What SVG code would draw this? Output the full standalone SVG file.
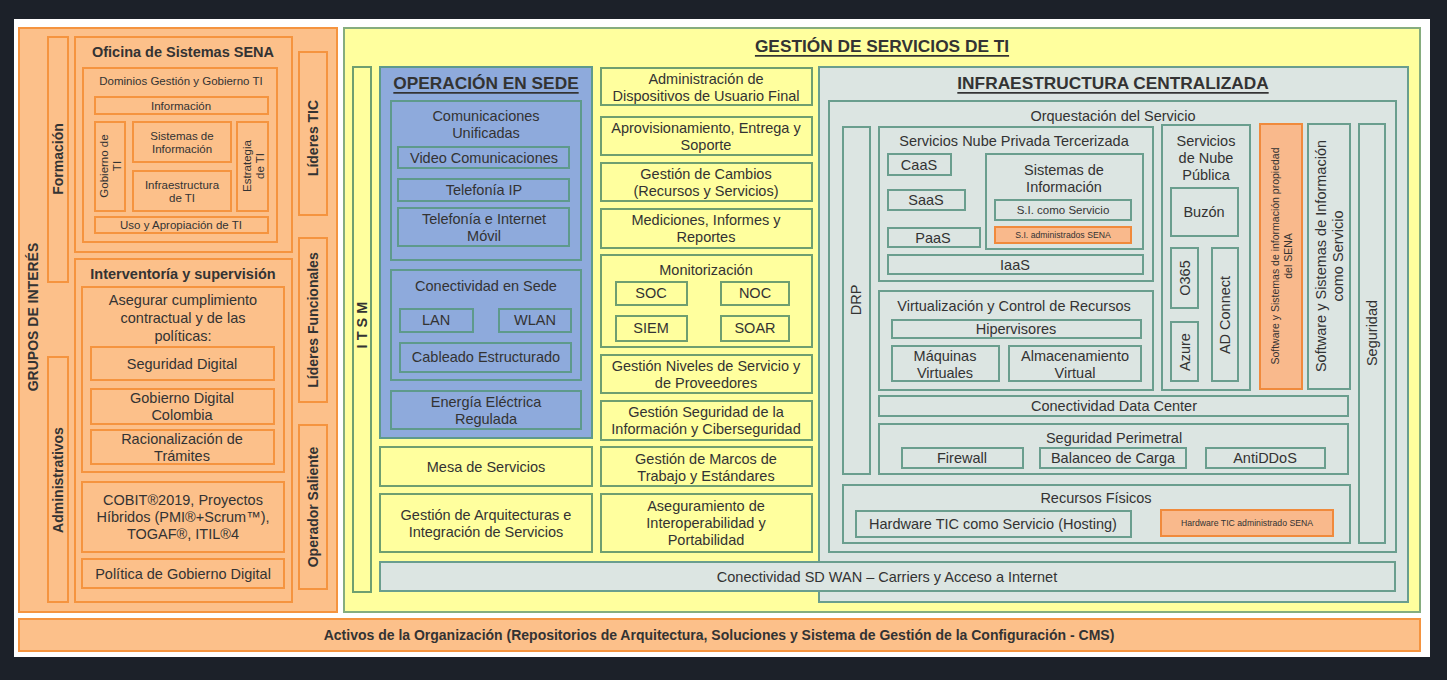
<svg xmlns="http://www.w3.org/2000/svg" width="1447" height="680" viewBox="0 0 1447 680">
<style>
.t{font-family:"Liberation Sans",Arial,sans-serif;fill:#333;text-anchor:middle;dominant-baseline:central;font-size:14.5px}
.b{font-weight:bold}
.u{text-decoration:underline}
.f10{font-size:11.5px}
.f12{font-size:14px}
.f16{font-size:17.3px}
.f7{font-size:8.7px}
.f9{font-size:10.5px}
.o{fill:#fcc08a;stroke:#f5943f;stroke-width:2}
.y{fill:#ffff9e;stroke:#86ad7e;stroke-width:2}
.yb{fill:#ffff9e;stroke:#6f9f70;stroke-width:2}
.bl{fill:#8eaadc;stroke:#5e9a8c;stroke-width:2}
.g{fill:#dce5e2;stroke:#6a9e8e;stroke-width:2}
.oh{fill:#f9b98c;stroke:#f08a3c;stroke-width:2}
</style>
<rect x="0" y="0" width="1447" height="680" fill="#1c2129"/>
<rect x="14" y="19" width="1416" height="638" fill="#ffffff"/>

<g id="grupos-interes">
<rect class="o" x="19" y="28" width="318" height="584"/>
<text class="t b f12" transform="rotate(-90 33 317)" x="33" y="317">GRUPOS DE INTERÉS</text>
</g>
<g id="formacion">
<rect class="o" x="48" y="37" width="20" height="245"/>
<text class="t b f12" transform="rotate(-90 58 159)" x="58" y="159">Formación</text>
</g>
<g id="administrativos">
<rect class="o" x="48" y="357" width="20" height="245"/>
<text class="t b f12" transform="rotate(-90 58 480)" x="58" y="480">Administrativos</text>
</g>
<g id="oficina-sistemas">
<rect class="o" x="75" y="37" width="217" height="215"/>
<text class="t b" x="183" y="52">Oficina de Sistemas SENA</text>
</g>
<g id="dominios">
<rect class="o" x="83" y="68" width="194" height="174"/>
<text class="t f10" x="181" y="81">Dominios Gestión y Gobierno TI</text>
</g>
<g id="informacion">
<rect class="o" x="95" y="97" width="173" height="17"/>
<text class="t f10" x="181" y="106">Información</text>
</g>
<g id="gobierno-ti">
<rect class="o" x="95" y="122" width="30" height="89"/>
<text class="t f10" transform="rotate(-90 110 166)" x="110" y="166"><tspan x="110" dy="-6.5">Gobierno de</tspan><tspan x="110" dy="13">TI</tspan></text>
</g>
<g id="sistemas-informacion-l">
<rect class="o" x="133" y="122" width="98" height="40"/>
<text class="t f10" x="182" y="142"><tspan x="182" dy="-6.5">Sistemas de</tspan><tspan x="182" dy="13">Información</tspan></text>
</g>
<g id="infraestructura-ti">
<rect class="o" x="133" y="171" width="98" height="40"/>
<text class="t f10" x="182" y="191"><tspan x="182" dy="-6.5">Infraestructura</tspan><tspan x="182" dy="13">de TI</tspan></text>
</g>
<g id="estrategia-ti">
<rect class="o" x="237" y="122" width="31" height="89"/>
<text class="t f10" transform="rotate(-90 253 166)" x="253" y="166"><tspan x="253" dy="-6.5">Estrategia</tspan><tspan x="253" dy="13">de TI</tspan></text>
</g>
<g id="uso-apropiacion">
<rect class="o" x="95" y="217" width="173" height="16"/>
<text class="t f10" x="181" y="225">Uso y Apropiación de TI</text>
</g>
<g id="interventoria">
<rect class="o" x="75" y="259" width="217" height="343"/>
<text class="t b" x="183" y="274">Interventoría y supervisión</text>
</g>
<g id="asegurar">
<rect class="o" x="82" y="287" width="202" height="185"/>
<text class="t" x="183" y="318"><tspan x="183" dy="-18">Asegurar cumplimiento</tspan><tspan x="183" dy="18">contractual y de las</tspan><tspan x="183" dy="18">políticas:</tspan></text>
</g>
<g id="seguridad-digital">
<rect class="o" x="91" y="347" width="183" height="33"/>
<text class="t" x="182" y="364">Seguridad Digital</text>
</g>
<g id="gobierno-digital-colombia">
<rect class="o" x="91" y="389" width="183" height="35"/>
<text class="t" x="182" y="406"><tspan x="182" dy="-8">Gobierno Digital</tspan><tspan x="182" dy="17">Colombia</tspan></text>
</g>
<g id="racionalizacion">
<rect class="o" x="91" y="430" width="183" height="34"/>
<text class="t" x="182" y="447"><tspan x="182" dy="-8">Racionalización de</tspan><tspan x="182" dy="17">Trámites</tspan></text>
</g>
<g id="cobit">
<rect class="o" x="82" y="482" width="202" height="70"/>
<text class="t" x="183" y="517"><tspan x="183" dy="-17">COBIT®2019, Proyectos</tspan><tspan x="183" dy="17">Híbridos (PMI®+Scrum™),</tspan><tspan x="183" dy="17">TOGAF®, ITIL®4</tspan></text>
</g>
<g id="politica-gobierno-digital">
<rect class="o" x="82" y="559" width="202" height="29"/>
<text class="t" x="183" y="574">Política de Gobierno Digital</text>
</g>
<g id="lideres-tic">
<rect class="o" x="299" y="52" width="28" height="163"/>
<text class="t b f12" transform="rotate(-90 313 138)" x="313" y="138">Líderes TIC</text>
</g>
<g id="lideres-funcionales">
<rect class="o" x="299" y="238" width="28" height="164"/>
<text class="t b f12" transform="rotate(-90 313 320)" x="313" y="320">Líderes Funcionales</text>
</g>
<g id="operador-saliente">
<rect class="o" x="299" y="425" width="28" height="164"/>
<text class="t b f12" transform="rotate(-90 313 507)" x="313" y="507">Operador Saliente</text>
</g>

<g id="activos">
<rect class="o" x="19" y="619" width="1401" height="32"/>
<text class="t b f12" x="719" y="635">Activos de la Organización (Repositorios de Arquitectura, Soluciones y Sistema de Gestión de la Configuración - CMS)</text>
</g>

<g id="gestion-servicios">
<rect class="y" x="344" y="28" width="1076" height="584"/>
<text class="t b u f16" x="882" y="46">GESTIÓN DE SERVICIOS DE TI</text>
</g>
<g id="itsm">
<rect class="yb" x="353" y="67" width="18" height="525"/>
<text class="t b" transform="rotate(-90 362 325)" x="362" y="325">I T S M</text>
</g>

<g id="operacion-sede">
<rect class="bl" x="380" y="67" width="212" height="371"/>
<text class="t b u f16" x="486" y="83">OPERACIÓN EN SEDE</text>
</g>
<g id="comunicaciones-unificadas">
<rect class="bl" x="391" y="101" width="190" height="159"/>
<text class="t" x="486" y="124"><tspan x="486" dy="-8">Comunicaciones</tspan><tspan x="486" dy="17">Unificadas</tspan></text>
</g>
<g id="video-comunicaciones">
<rect class="bl" x="398" y="147" width="171" height="21"/>
<text class="t" x="484" y="158">Video Comunicaciones</text>
</g>
<g id="telefonia-ip">
<rect class="bl" x="398" y="179" width="171" height="22"/>
<text class="t" x="484" y="190">Telefonía IP</text>
</g>
<g id="telefonia-movil">
<rect class="bl" x="398" y="208" width="171" height="38"/>
<text class="t" x="484" y="227"><tspan x="484" dy="-8">Telefonía e Internet</tspan><tspan x="484" dy="17">Móvil</tspan></text>
</g>
<g id="conectividad-sede">
<rect class="bl" x="391" y="270" width="190" height="110"/>
<text class="t" x="486" y="286">Conectividad en Sede</text>
</g>
<g id="lan">
<rect class="bl" x="400" y="309" width="73" height="23"/>
<text class="t" x="436" y="320">LAN</text>
</g>
<g id="wlan">
<rect class="bl" x="499" y="309" width="72" height="23"/>
<text class="t" x="535" y="320">WLAN</text>
</g>
<g id="cableado">
<rect class="bl" x="400" y="343" width="171" height="29"/>
<text class="t" x="486" y="357">Cableado Estructurado</text>
</g>
<g id="energia">
<rect class="bl" x="391" y="391" width="190" height="38"/>
<text class="t" x="486" y="410"><tspan x="486" dy="-8">Energía Eléctrica</tspan><tspan x="486" dy="17">Regulada</tspan></text>
</g>
<g id="mesa-servicios">
<rect class="yb" x="380" y="447" width="212" height="39"/>
<text class="t" x="486" y="467">Mesa de Servicios</text>
</g>
<g id="gestion-arquitecturas">
<rect class="yb" x="380" y="494" width="212" height="58"/>
<text class="t" x="486" y="523"><tspan x="486" dy="-8">Gestión de Arquitecturas e</tspan><tspan x="486" dy="17">Integración de Servicios</tspan></text>
</g>

<g id="admin-dispositivos">
<rect class="yb" x="601" y="68" width="211" height="37"/>
<text class="t" x="706" y="87"><tspan x="706" dy="-8">Administración de</tspan><tspan x="706" dy="17">Dispositivos de Usuario Final</tspan></text>
</g>
<g id="aprovisionamiento">
<rect class="yb" x="601" y="117" width="211" height="38"/>
<text class="t" x="706" y="136"><tspan x="706" dy="-8">Aprovisionamiento, Entrega y</tspan><tspan x="706" dy="17">Soporte</tspan></text>
</g>
<g id="gestion-cambios">
<rect class="yb" x="601" y="163" width="211" height="38"/>
<text class="t" x="706" y="182"><tspan x="706" dy="-8">Gestión de Cambios</tspan><tspan x="706" dy="17">(Recursos y Servicios)</tspan></text>
</g>
<g id="mediciones">
<rect class="yb" x="601" y="209" width="211" height="39"/>
<text class="t" x="706" y="228"><tspan x="706" dy="-8">Mediciones, Informes y</tspan><tspan x="706" dy="17">Reportes</tspan></text>
</g>
<g id="monitorizacion">
<rect class="yb" x="601" y="255" width="211" height="92"/>
<text class="t" x="706" y="270">Monitorización</text>
</g>
<g id="soc">
<rect class="yb" x="616" y="282" width="71" height="23"/>
<text class="t" x="651" y="293">SOC</text>
</g>
<g id="noc">
<rect class="yb" x="721" y="282" width="68" height="23"/>
<text class="t" x="755" y="293">NOC</text>
</g>
<g id="siem">
<rect class="yb" x="616" y="316" width="71" height="25"/>
<text class="t" x="651" y="328">SIEM</text>
</g>
<g id="soar">
<rect class="yb" x="721" y="316" width="68" height="25"/>
<text class="t" x="755" y="328">SOAR</text>
</g>
<g id="gestion-niveles">
<rect class="yb" x="601" y="355" width="211" height="38"/>
<text class="t" x="706" y="374"><tspan x="706" dy="-8">Gestión Niveles de Servicio y</tspan><tspan x="706" dy="17">de Proveedores</tspan></text>
</g>
<g id="gestion-seguridad">
<rect class="yb" x="601" y="401" width="211" height="39"/>
<text class="t" x="706" y="420"><tspan x="706" dy="-8">Gestión Seguridad de la</tspan><tspan x="706" dy="17">Información y Ciberseguridad</tspan></text>
</g>
<g id="gestion-marcos">
<rect class="yb" x="601" y="447" width="211" height="39"/>
<text class="t" x="706" y="467"><tspan x="706" dy="-8">Gestión de Marcos de</tspan><tspan x="706" dy="17">Trabajo y Estándares</tspan></text>
</g>
<g id="aseguramiento">
<rect class="yb" x="601" y="494" width="211" height="58"/>
<text class="t" x="706" y="523"><tspan x="706" dy="-17">Aseguramiento de</tspan><tspan x="706" dy="17">Interoperabilidad y</tspan><tspan x="706" dy="17">Portabilidad</tspan></text>
</g>

<g id="infraestructura-centralizada">
<rect class="g" x="819" y="67" width="589" height="535"/>
<text class="t b u f16" x="1113" y="83">INFRAESTRUCTURA CENTRALIZADA</text>
</g>
<g id="orquestacion">
<rect class="g" x="829" y="101" width="567" height="451"/>
<text class="t" x="1113" y="116">Orquestación del Servicio</text>
</g>
<g id="drp">
<rect class="g" x="843" y="127" width="27" height="347"/>
<text class="t" transform="rotate(-90 856 300)" x="856" y="300">DRP</text>
</g>
<g id="nube-privada">
<rect class="g" x="879" y="127" width="274" height="154"/>
<text class="t" x="1014" y="141">Servicios Nube Privada Tercerizada</text>
</g>
<g id="caas">
<rect class="g" x="888" y="154" width="63" height="21"/>
<text class="t" x="919" y="165">CaaS</text>
</g>
<g id="saas">
<rect class="g" x="888" y="190" width="77" height="20"/>
<text class="t" x="926" y="200">SaaS</text>
</g>
<g id="paas">
<rect class="g" x="888" y="228" width="92" height="19"/>
<text class="t" x="933" y="238">PaaS</text>
</g>
<g id="sistemas-informacion-r">
<rect class="g" x="986" y="154" width="157" height="95"/>
<text class="t" x="1064" y="178"><tspan x="1064" dy="-8">Sistemas de</tspan><tspan x="1064" dy="17">Información</tspan></text>
</g>
<g id="si-como-servicio">
<rect class="g" x="995" y="200" width="136" height="20"/>
<text class="t f10" x="1063" y="210">S.I. como Servicio</text>
</g>
<g id="si-administrados">
<rect class="oh" x="995" y="227" width="136" height="16"/>
<text class="t f7" x="1063" y="235">S.I. administrados SENA</text>
</g>
<g id="iaas">
<rect class="g" x="888" y="255" width="255" height="19"/>
<text class="t" x="1015" y="265">IaaS</text>
</g>
<g id="nube-publica">
<rect class="g" x="1162" y="125" width="88" height="265"/>
<text class="t" x="1206" y="158"><tspan x="1206" dy="-17">Servicios</tspan><tspan x="1206" dy="17">de Nube</tspan><tspan x="1206" dy="17">Pública</tspan></text>
</g>
<g id="buzon">
<rect class="g" x="1171" y="188" width="67" height="48"/>
<text class="t" x="1204" y="212">Buzón</text>
</g>
<g id="o365">
<rect class="g" x="1171" y="248" width="27" height="60"/>
<text class="t" transform="rotate(-90 1185 278)" x="1185" y="278">O365</text>
</g>
<g id="ad-connect">
<rect class="g" x="1212" y="248" width="26" height="133"/>
<text class="t" transform="rotate(-90 1225 315)" x="1225" y="315">AD Connect</text>
</g>
<g id="azure">
<rect class="g" x="1171" y="322" width="27" height="59"/>
<text class="t" transform="rotate(-90 1185 352)" x="1185" y="352">Azure</text>
</g>
<g id="software-propiedad">
<rect class="oh" x="1260" y="124" width="42" height="265"/>
<text class="t f9" transform="rotate(-90 1281 256)" x="1281" y="256"><tspan x="1281" dy="-6.5">Software y Sistemas de información propiedad</tspan><tspan x="1281" dy="13">del SENA</tspan></text>
</g>
<g id="software-servicio">
<rect class="g" x="1308" y="124" width="42" height="265"/>
<text class="t" transform="rotate(-90 1329 256)" x="1329" y="256"><tspan x="1329" dy="-8">Software y Sistemas de Información</tspan><tspan x="1329" dy="17">como Servicio</tspan></text>
</g>
<g id="seguridad">
<rect class="g" x="1359" y="124" width="26" height="419"/>
<text class="t" transform="rotate(-90 1372 333)" x="1372" y="333">Seguridad</text>
</g>
<g id="virtualizacion">
<rect class="g" x="879" y="291" width="274" height="99"/>
<text class="t" x="1014" y="306">Virtualización y Control de Recursos</text>
</g>
<g id="hipervisores">
<rect class="g" x="892" y="320" width="249" height="18"/>
<text class="t" x="1016" y="329">Hipervisores</text>
</g>
<g id="maquinas-virtuales">
<rect class="g" x="892" y="346" width="107" height="35"/>
<text class="t" x="945" y="364"><tspan x="945" dy="-8">Máquinas</tspan><tspan x="945" dy="17">Virtuales</tspan></text>
</g>
<g id="almacenamiento-virtual">
<rect class="g" x="1009" y="346" width="132" height="35"/>
<text class="t" x="1075" y="364"><tspan x="1075" dy="-8">Almacenamiento</tspan><tspan x="1075" dy="17">Virtual</tspan></text>
</g>
<g id="conectividad-dc">
<rect class="g" x="879" y="396" width="469" height="20"/>
<text class="t" x="1114" y="406">Conectividad Data Center</text>
</g>
<g id="seguridad-perimetral">
<rect class="g" x="879" y="424" width="469" height="50"/>
<text class="t" x="1114" y="438">Seguridad Perimetral</text>
</g>
<g id="firewall">
<rect class="g" x="902" y="448" width="121" height="20"/>
<text class="t" x="962" y="458">Firewall</text>
</g>
<g id="balanceo">
<rect class="g" x="1040" y="448" width="146" height="20"/>
<text class="t" x="1113" y="458">Balanceo de Carga</text>
</g>
<g id="antiddos">
<rect class="g" x="1206" y="448" width="119" height="20"/>
<text class="t" x="1265" y="458">AntiDDoS</text>
</g>
<g id="recursos-fisicos">
<rect class="g" x="843" y="485" width="507" height="58"/>
<text class="t" x="1096" y="498">Recursos Físicos</text>
</g>
<g id="hardware-servicio">
<rect class="g" x="856" y="511" width="275" height="26"/>
<text class="t" x="993" y="524">Hardware TIC como Servicio  (Hosting)</text>
</g>
<g id="hardware-sena">
<rect class="oh" x="1161" y="510" width="172" height="26"/>
<text class="t f7" x="1247" y="523">Hardware TIC administrado SENA</text>
</g>
<g id="sd-wan">
<rect class="g" x="380" y="562" width="1015" height="29"/>
<text class="t" x="887" y="577">Conectividad SD WAN – Carriers y Acceso a Internet</text>
</g>
</svg>
